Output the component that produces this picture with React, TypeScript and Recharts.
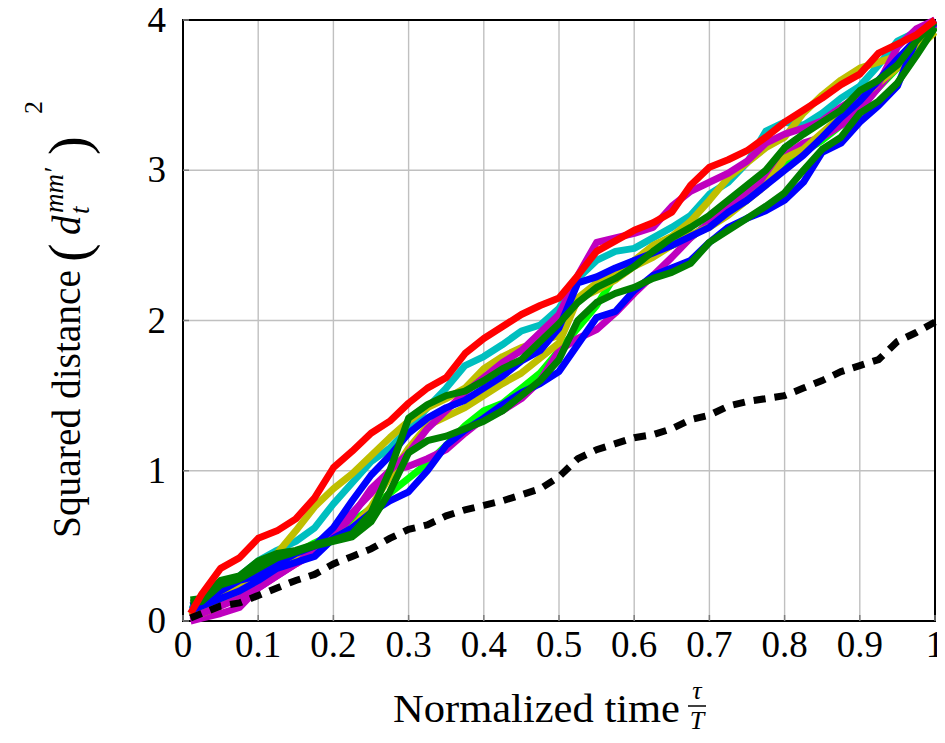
import React from 'react';
import { LineChart, Line, XAxis, YAxis, CartesianGrid, ReferenceArea, Label } from 'recharts';

const FONT = "'Liberation Serif', 'DejaVu Serif', serif";

const xs = [0.01, 0.025, 0.05, 0.075, 0.1, 0.125, 0.15, 0.175, 0.2, 0.225, 0.25, 0.275, 0.3, 0.325, 0.35, 0.375, 0.4, 0.425, 0.45, 0.475, 0.5, 0.525, 0.55, 0.575, 0.6, 0.625, 0.65, 0.675, 0.7, 0.725, 0.75, 0.775, 0.8, 0.825, 0.85, 0.875, 0.9, 0.925, 0.95, 0.975, 1.0];

const red = [0.05, 0.18, 0.35, 0.42, 0.55, 0.6, 0.68, 0.82, 1.02, 1.13, 1.25, 1.33, 1.45, 1.55, 1.62, 1.78, 1.88, 1.96, 2.04, 2.1, 2.15, 2.3, 2.46, 2.53, 2.6, 2.65, 2.72, 2.9, 3.02, 3.07, 3.13, 3.22, 3.32, 3.4, 3.48, 3.57, 3.64, 3.78, 3.84, 3.9, 4.0];
const blueLow = [0.07, 0.1, 0.15, 0.2, 0.27, 0.35, 0.39, 0.43, 0.55, 0.62, 0.72, 0.8, 0.86, 1.0, 1.17, 1.27, 1.35, 1.44, 1.52, 1.58, 1.66, 1.84, 2.02, 2.06, 2.2, 2.3, 2.35, 2.4, 2.52, 2.62, 2.68, 2.73, 2.8, 2.92, 3.12, 3.18, 3.32, 3.43, 3.56, 3.87, 4.0];
const blueUp = [0.1, 0.12, 0.2, 0.27, 0.3, 0.38, 0.45, 0.5, 0.62, 0.8, 0.97, 1.1, 1.25, 1.35, 1.42, 1.47, 1.55, 1.63, 1.73, 1.8, 1.95, 2.25, 2.29, 2.35, 2.4, 2.45, 2.5, 2.56, 2.62, 2.72, 2.8, 2.9, 3.0, 3.1, 3.22, 3.35, 3.46, 3.6, 3.74, 3.87, 3.98];
const cyan = [0.08, 0.12, 0.22, 0.3, 0.4, 0.47, 0.53, 0.62, 0.78, 0.92, 1.06, 1.15, 1.28, 1.42, 1.55, 1.7, 1.76, 1.84, 1.93, 1.97, 2.08, 2.28, 2.4, 2.46, 2.48, 2.55, 2.62, 2.7, 2.84, 2.92, 3.05, 3.26, 3.32, 3.3, 3.38, 3.48, 3.56, 3.7, 3.86, 3.92, 3.98];
const oliveUp = [0.03, 0.08, 0.18, 0.23, 0.3, 0.45, 0.6, 0.76, 0.88, 0.98, 1.1, 1.22, 1.33, 1.42, 1.48, 1.55, 1.68, 1.76, 1.82, 1.86, 1.9, 2.15, 2.25, 2.32, 2.4, 2.5, 2.56, 2.66, 2.8, 2.95, 3.05, 3.15, 3.22, 3.38, 3.5, 3.6, 3.68, 3.72, 3.76, 3.8, 3.92];
const oliveLow = [0.03, 0.05, 0.1, 0.18, 0.25, 0.32, 0.4, 0.46, 0.55, 0.62, 0.76, 0.96, 1.15, 1.3, 1.36, 1.42, 1.5, 1.58, 1.65, 1.75, 1.85, 2.14, 2.2, 2.27, 2.36, 2.42, 2.5, 2.57, 2.62, 2.7, 2.8, 2.9, 3.08, 3.14, 3.25, 3.36, 3.48, 3.58, 3.68, 3.8, 3.95];
const magUp = [0.02, 0.05, 0.1, 0.15, 0.22, 0.3, 0.38, 0.48, 0.6, 0.72, 0.85, 1.0, 1.12, 1.28, 1.4, 1.52, 1.62, 1.72, 1.8, 1.92, 2.04, 2.3, 2.52, 2.55, 2.58, 2.62, 2.76, 2.86, 2.92, 2.98, 3.06, 3.18, 3.24, 3.28, 3.33, 3.42, 3.5, 3.58, 3.82, 3.94, 4.0];
const magLow = [0.0, 0.02, 0.05, 0.09, 0.22, 0.3, 0.38, 0.45, 0.55, 0.7, 0.88, 1.0, 1.03, 1.08, 1.14, 1.25, 1.35, 1.4, 1.48, 1.6, 1.8, 1.88, 1.94, 2.05, 2.18, 2.3, 2.42, 2.55, 2.65, 2.75, 2.85, 2.95, 3.1, 3.18, 3.22, 3.3, 3.4, 3.55, 3.7, 3.85, 3.97];
const lime = [0.05, 0.08, 0.15, 0.2, 0.28, 0.38, 0.45, 0.52, 0.58, 0.66, 0.75, 0.85, 0.95, 1.05, 1.17, 1.3, 1.4, 1.45, 1.55, 1.65, 1.8, 1.95, 2.1, 2.3, 2.4, 2.45, 2.5, 2.55, 2.65, 2.72, 2.8, 2.92, 3.05, 3.12, 3.2, 3.3, 3.42, 3.55, 3.68, 3.82, 3.96];
const dgA = [0.14, 0.15, 0.27, 0.3, 0.4, 0.45, 0.47, 0.51, 0.54, 0.58, 0.72, 1.0, 1.35, 1.44, 1.5, 1.53, 1.6, 1.68, 1.74, 1.86, 1.98, 2.12, 2.22, 2.28, 2.36, 2.46, 2.55, 2.62, 2.7, 2.8, 2.9, 3.0, 3.15, 3.24, 3.32, 3.4, 3.53, 3.6, 3.7, 3.86, 3.99];
const dgB = [0.12, 0.13, 0.24, 0.28, 0.35, 0.42, 0.46, 0.5, 0.53, 0.56, 0.66, 0.86, 1.12, 1.2, 1.23, 1.28, 1.33, 1.4, 1.5, 1.6, 1.74, 2.0, 2.12, 2.18, 2.22, 2.28, 2.32, 2.38, 2.52, 2.6, 2.68, 2.76, 2.85, 3.0, 3.14, 3.22, 3.38, 3.46, 3.58, 3.76, 3.95];
const reference = [0.02, 0.05, 0.1, 0.12, 0.17, 0.22, 0.27, 0.31, 0.38, 0.43, 0.48, 0.55, 0.61, 0.64, 0.7, 0.74, 0.77, 0.8, 0.84, 0.88, 0.96, 1.08, 1.14, 1.18, 1.22, 1.24, 1.28, 1.34, 1.37, 1.43, 1.46, 1.48, 1.5, 1.55, 1.6, 1.66, 1.7, 1.74, 1.86, 1.92, 1.99];

const xTicks = [0, 0.1, 0.2, 0.3, 0.4, 0.5, 0.6, 0.7, 0.8, 0.9, 1];
const xTickLabels = ['0', '0.1', '0.2', '0.3', '0.4', '0.5', '0.6', '0.7', '0.8', '0.9', '1'];
const yTicks = [0, 1, 2, 3, 4];
const yTickLabels = ['0', '1', '2', '3', '4'];

const series = [
  { key: 'lime', color: '#00ff00', values: lime },
  { key: 'magLow', color: '#bf00bf', values: magLow },
  { key: 'oliveLow', color: '#bfbf00', values: oliveLow },
  { key: 'cyan', color: '#00bfbf', values: cyan },
  { key: 'oliveUp', color: '#bfbf00', values: oliveUp },
  { key: 'magUp', color: '#bf00bf', values: magUp },
  { key: 'blueUp', color: '#0000ff', values: blueUp },
  { key: 'blueLow', color: '#0000ff', values: blueLow },
  { key: 'dgB', color: '#008000', values: dgB },
  { key: 'dgA', color: '#008000', values: dgA },
  { key: 'red', color: '#ff0000', values: red },
];

const data = xs.map((x, i) => {
  const row: Record<string, number> = { x, reference: reference[i] };
  series.forEach((s) => {
    row[s.key] = s.values[i];
  });
  return row;
});

const textStyle = { fontFamily: FONT };

const XTick = (props: any) => {
  const { x, y, payload } = props;
  const idx = xTicks.indexOf(payload.value);
  return (
    <text x={x} y={y + 42} textAnchor="middle" style={textStyle} fontSize={37} fill="#000">
      {xTickLabels[idx]}
    </text>
  );
};

const YTick = (props: any) => {
  const { x, y, payload } = props;
  const idx = yTicks.indexOf(payload.value);
  return (
    <text x={x - 23} y={y + 12} textAnchor="end" style={textStyle} fontSize={37} fill="#000">
      {yTickLabels[idx]}
    </text>
  );
};

const XTitle = (props: any) => {
  const vb = props.viewBox;
  const left = vb.x + 210;
  const base = vb.y + 101;
  return (
    <g style={textStyle} fill="#000">
      <text x={left} y={base} style={textStyle} fontSize={39} textLength={287} lengthAdjust="spacingAndGlyphs">
        Normalized time
      </text>
      <text x={left + 304} y={base - 23} style={textStyle} fontSize={26} fontStyle="italic" textAnchor="middle">
        τ
      </text>
      <line x1={left + 295} x2={left + 313} y1={base - 16} y2={base - 16} stroke="#000" strokeWidth={1.5} />
      <text x={left + 304} y={base + 7} style={textStyle} fontSize={26} fontStyle="italic" textAnchor="middle">
        T
      </text>
    </g>
  );
};

const YTitle = (props: any) => {
  const vb = props.viewBox;
  const ox = vb.x + 72;
  const oy = vb.y + vb.height - 83;
  return (
    <g transform={`translate(${ox},${oy}) rotate(-90)`} style={textStyle} fill="#000">
      <text x={0} y={0} style={textStyle} fontSize={39} textLength={268} lengthAdjust="spacingAndGlyphs">
        Squared distance
      </text>
      <text x={276} y={8} style={textStyle} fontSize={56}>(</text>
      <text x={303} y={0} style={textStyle} fontSize={39} fontStyle="italic">d</text>
      <text x={325} y={-17} style={textStyle} fontSize={27} fontStyle="italic">mm′</text>
      <text x={324} y={9} style={textStyle} fontSize={27} fontStyle="italic">t</text>
      <text x={383} y={8} style={textStyle} fontSize={56}>)</text>
      <text x={424} y={-38} style={textStyle} fontSize={26}>2</text>
    </g>
  );
};

export default function App() {
  return (
    <LineChart
      width={937}
      height={735}
      data={data}
      margin={{ top: 12, right: 10, bottom: 0, left: 0 }}
      style={{ background: '#fff', fontFamily: FONT }}
    >
      <CartesianGrid stroke="#c0c0c0" strokeWidth={1.4} />
      <XAxis
        dataKey="x"
        type="number"
        domain={[0, 1]}
        ticks={xTicks}
        height={122}
        axisLine={false}
        tickSize={-6}
        tickMargin={0}
        tickLine={{ stroke: '#7f7f7f', strokeWidth: 1.5 }}
        tick={<XTick />}
        interval={0}
      >
        <Label content={<XTitle />} />
      </XAxis>
      <XAxis
        xAxisId="top"
        orientation="top"
        type="number"
        domain={[0, 1]}
        ticks={xTicks}
        height={0}
        axisLine={false}
        tickSize={-6}
        tickLine={{ stroke: '#7f7f7f', strokeWidth: 1.5 }}
        tick={false}
        interval={0}
      />
      <YAxis
        type="number"
        domain={[0, 4]}
        ticks={yTicks}
        width={175}
        axisLine={false}
        tickSize={-6}
        tickMargin={0}
        tickLine={{ stroke: '#7f7f7f', strokeWidth: 1.5 }}
        tick={<YTick />}
        interval={0}
      >
        <Label content={<YTitle />} />
      </YAxis>
      <YAxis
        yAxisId="right"
        orientation="right"
        type="number"
        domain={[0, 4]}
        ticks={yTicks}
        width={0}
        axisLine={false}
        tickSize={-6}
        tickLine={{ stroke: '#7f7f7f', strokeWidth: 1.5 }}
        tick={false}
        interval={0}
      />
      {series.map((s) => (
        <Line
          key={s.key}
          dataKey={s.key}
          stroke={s.color}
          strokeWidth={7}
          dot={false}
          activeDot={false}
          type="linear"
          strokeLinejoin="round"
          isAnimationActive={false}
        />
      ))}
      <Line
        dataKey="reference"
        stroke="#000"
        strokeWidth={7}
        strokeDasharray="12 9"
        dot={false}
        activeDot={false}
        type="linear"
        isAnimationActive={false}
      />
      <ReferenceArea x1={0} x2={1} y1={0} y2={4} fill="none" fillOpacity={0} stroke="#000" strokeWidth={2} ifOverflow="visible" />
    </LineChart>
  );
}
